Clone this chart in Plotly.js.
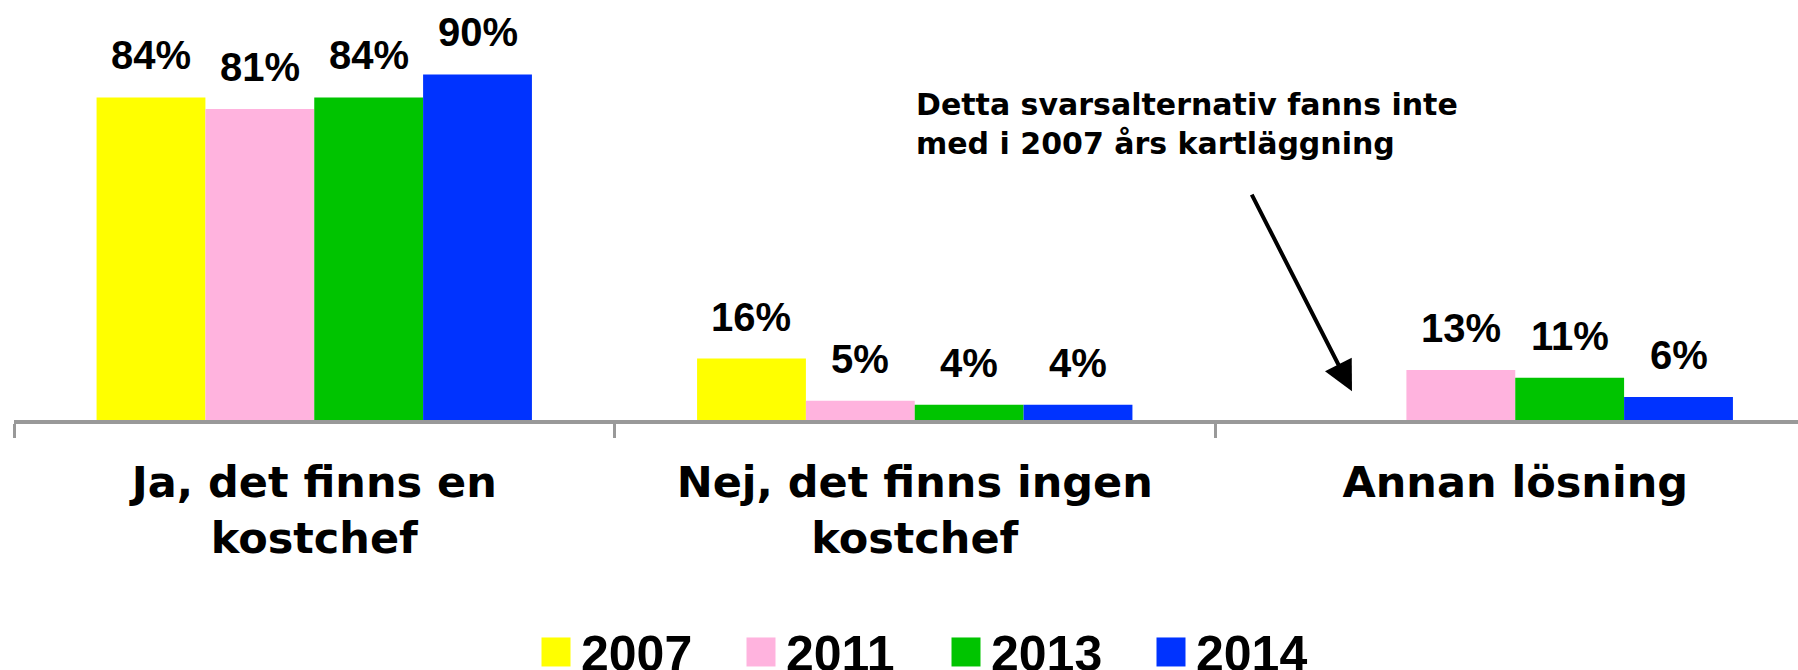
<!DOCTYPE html>
<html><head><meta charset="utf-8">
<script src="https://cdn.plot.ly/plotly-3.0.1.min.js"></script>
<style>html,body{margin:0;padding:0;background:#fff}#chart{width:1798px;height:670px}</style>
</head><body><div id="chart"></div>
<script>
// ---- data ----
const categories = ["Ja, det finns en<br>kostchef", "Nej, det finns ingen<br>kostchef", "Annan lösning"];
const years = ["2007", "2011", "2013", "2014"];
const values2007 = [84, 16, null];
const values2011 = [81, 5, 13];
const values2013 = [84, 4, 11];
const values2014 = [90, 4, 6];
const colors = ["#FFFF00", "#FFB3DE", "#00C400", "#0033FF"];
const noteText = "Detta svarsalternativ fanns inte<br>med i 2007 års kartläggning";

// ---- build ----
const series = [values2007, values2011, values2013, values2014];
const BARGAP = 0.275;
const barW = (1 - BARGAP) / series.length;
const CAT_PX = 600.5, PLOT_W = 1784;

const traces = series.map((vals, k) => ({
  type: 'bar', name: years[k], x: categories, y: vals,
  marker: {color: colors[k]}, hoverinfo: 'name+y'
}));

const labelFont = {family: 'Liberation Sans, Arial, sans-serif', size: 40, color: '#000', weight: 'bold'};
const annotations = [];
series.forEach((vals, k) => {
  vals.forEach((v, i) => {
    if (v == null) return;
    annotations.push({
      xref: 'x', yref: 'y', x: i + (k - (series.length - 1) / 2) * barW, y: v,
      text: v + '%', showarrow: false, yanchor: 'middle', yshift: 42, font: labelFont
    });
  });
});
// note text
annotations.push({
  xref: 'paper', yref: 'paper', x: (914 - 14) / PLOT_W, y: 0.77, xanchor: 'left', yanchor: 'middle',
  align: 'left', showarrow: false, text: noteText,
  font: {family: 'DejaVu Sans, sans-serif', size: 30, color: '#000', weight: 'bold'}
});
// arrow pointing to the missing 2007 slot of the last category
const missingIdx = values2007.findIndex(v => v == null);
annotations.push({
  xref: 'x', yref: 'y', x: missingIdx - 1.5 * barW, y: 7.5, text: '', showarrow: true,
  ax: -101, ay: -198, arrowhead: 2, arrowsize: 1.5, arrowwidth: 4, arrowcolor: '#000'
});

const layout = {
  width: 1798, height: 670,
  margin: {l: 14, r: 0, t: 36, b: 250, pad: 0},
  barmode: 'group', bargap: BARGAP, bargroupgap: 0,
  paper_bgcolor: '#fff', plot_bgcolor: '#fff',
  xaxis: {
    type: 'category', range: [-0.5, -0.5 + PLOT_W / CAT_PX],
    tickson: 'boundaries', ticks: 'outside', ticklen: 14, tickwidth: 3, tickcolor: '#999',
    showline: true, linecolor: '#999', linewidth: 4, showgrid: false, zeroline: false,
    tickfont: {family: 'DejaVu Sans, sans-serif', size: 43, color: '#000', weight: 'bold'},
    ticklabelstandoff: 21, fixedrange: true
  },
  yaxis: {range: [0, 100], visible: false, fixedrange: true},
  showlegend: true,
  legend: {
    orientation: 'h', xref: 'container', yref: 'container',
    x: 531 / 1798, xanchor: 'left', y: 0.0269, yanchor: 'middle',
    font: {family: 'Liberation Sans, Arial, sans-serif', size: 50, color: '#000', weight: 'bold'},
    itemwidth: 40, entrywidth: 150, traceorder: 'normal', bgcolor: 'rgba(0,0,0,0)', borderwidth: 0
  },
  annotations: annotations
};

function enlargeLegend() {
  document.querySelectorAll('#chart .legend .legendpoints path').forEach(p => {
    p.setAttribute('d', 'M14.5,14.5H-14.5V-14.5H14.5Z');
    p.style.strokeWidth = '0px';
  });
}
const gd = document.getElementById('chart');
Plotly.newPlot(gd, traces, layout, {displayModeBar: false, staticPlot: true}).then(() => {
  enlargeLegend();
  gd.on('plotly_afterplot', enlargeLegend);
});
</script>
</body></html>
